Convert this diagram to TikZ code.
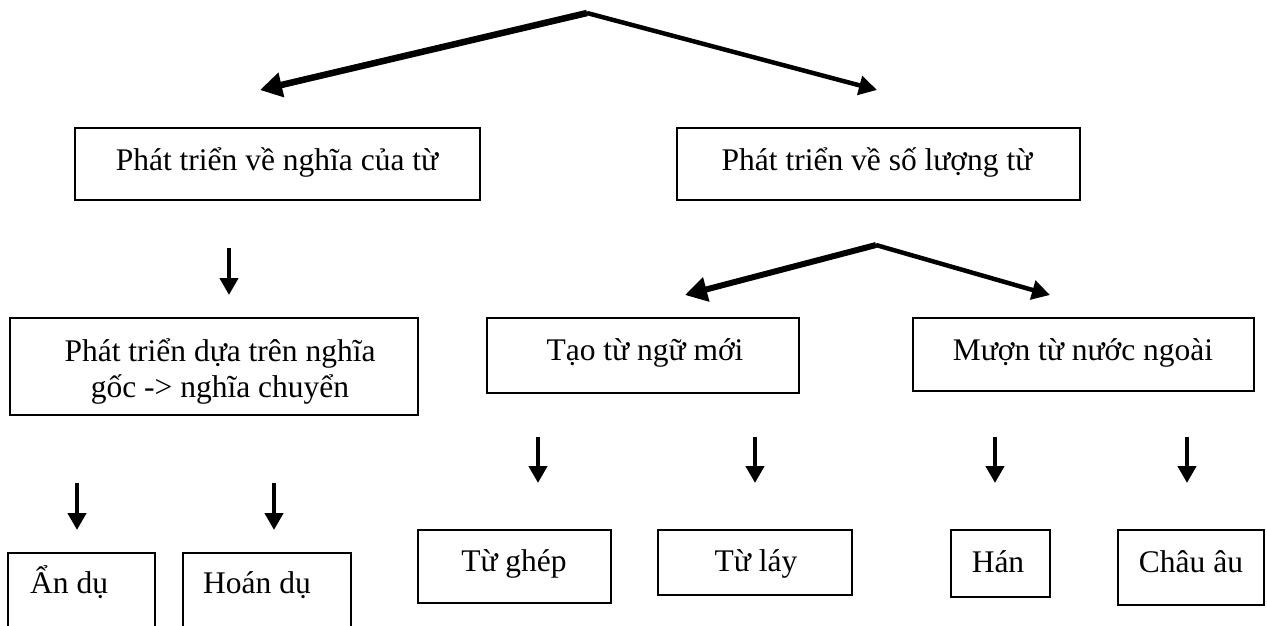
\documentclass[tikz,border=0pt]{standalone}
\usepackage{fontspec}
\setmainfont{Liberation Serif}
\usetikzlibrary{arrows.meta}
\begin{document}
\begin{tikzpicture}[x=1pt,y=-1pt,
  box/.style={draw, line width=1.8pt, inner sep=0pt},
  txt/.style={anchor=base, inner sep=0pt, font=\fontsize{31.5}{35.5}\selectfont},
  txtl/.style={txt, anchor=base west},
  down/.style={line width=4.5pt, -{Triangle[length=17pt,width=18pt]}},
  bigfork/.style={line width=6.5pt, -{Triangle[length=22pt,width=24pt]}},
  thinfork/.style={line width=4.5pt, -{Triangle[length=18pt,width=19pt]}}]
\useasboundingbox (0,0) rectangle (1267,625);
\clip (0,0) rectangle (1267,625);

% boxes
\node[box, minimum width=405pt, minimum height=72pt] (b1) at (277.5,164) {};
\node[box, minimum width=403pt, minimum height=72pt] (b2) at (878.5,164) {};
\node[box, minimum width=408pt, minimum height=97pt] (b3) at (214,366.5) {};
\node[box, minimum width=312pt, minimum height=75pt] (b4) at (643,355.5) {};
\node[box, minimum width=341pt, minimum height=73pt] (b5) at (1083.5,354.5) {};
\node[box, minimum width=147pt, minimum height=97pt] (b6) at (81.5,601.5) {};
\node[box, minimum width=168pt, minimum height=97pt] (b7) at (267,601.5) {};
\node[box, minimum width=193pt, minimum height=73pt] (b8) at (514.5,566.5) {};
\node[box, minimum width=194pt, minimum height=65pt] (b9) at (755,562.5) {};
\node[box, minimum width=99pt, minimum height=67pt] (b10) at (1000.5,563.5) {};
\node[box, minimum width=146pt, minimum height=75pt] (b11) at (1191,567.5) {};

% texts
\node[txt] (t1) at (277,170) {Phát triển về nghĩa của từ};
\node[txt] (t2) at (877,170) {Phát triển về số lượng từ};
\node[txt, align=center] (t3) at (220,397) {Phát triển dựa trên nghĩa\\gốc -> nghĩa chuyển};
\node[txt] (t4) at (645,360) {Tạo từ ngữ mới};
\node[txt] (t5) at (1083,360) {Mượn từ nước ngoài};
\node[txtl] (t6) at (30,593) {Ẩn dụ};
\node[txtl] (t7) at (203,593) {Hoán dụ};
\node[txt] (t8) at (514,571) {Từ ghép};
\node[txt] (t9) at (756,571) {Từ láy};
\node[txt] (t10) at (998,572) {Hán};
\node[txt] (t11) at (1191,572) {Châu âu};

% fork coordinates
\coordinate (f1) at (587,13);
\coordinate (f1l) at (260,90);
\coordinate (f1r) at (877,90);
\coordinate (f2) at (876,245);
\coordinate (f2l) at (685,295);
\coordinate (f2r) at (1050,295);
\draw[bigfork] (f1) -- (f1l);
\draw[thinfork] (f1) -- (f1r);
\draw[bigfork, line width=6pt] (f2) -- (f2l);
\draw[thinfork] (f2) -- (f2r);

% down arrows
\coordinate (d1s) at (229,248); \coordinate (d1e) at (229,295);
\coordinate (d2s) at (77,483);  \coordinate (d2e) at (77,530);
\coordinate (d3s) at (274,483); \coordinate (d3e) at (274,530);
\coordinate (d4s) at (538,437); \coordinate (d4e) at (538,483);
\coordinate (d5s) at (755,437); \coordinate (d5e) at (755,483);
\coordinate (d6s) at (995,437); \coordinate (d6e) at (995,483);
\coordinate (d7s) at (1187,437); \coordinate (d7e) at (1187,483);
\foreach \i in {1,...,7} \draw[down] (d\i s) -- (d\i e);
\end{tikzpicture}
\end{document}
